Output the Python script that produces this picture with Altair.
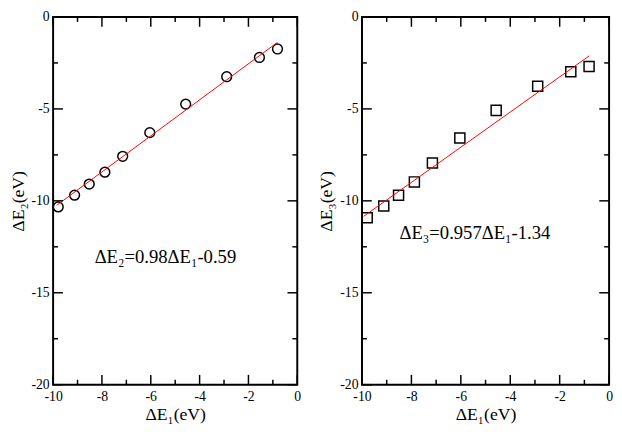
import altair as alt
import pandas as pd

# ---- data ----
de1 = [-9.79, -9.12, -8.52, -7.88, -7.15, -6.04, -4.57, -2.89, -1.55, -0.81]
de2 = [-10.33, -9.69, -9.09, -8.44, -7.58, -6.29, -4.74, -3.25, -2.20, -1.74]
de3 = [-10.92, -10.28, -9.70, -8.97, -7.94, -6.58, -5.08, -3.77, -2.98, -2.69]

fit2_x = [-9.85, -0.81]
fit2_y = [-10.24, -1.38]
fit3_x = [-9.93, -0.80]
fit3_y = [-10.84, -2.11]

x_major = [-10, -8, -6, -4, -2, 0]
x_minor = [-9, -7, -5, -3, -1]
y_major = [-20, -15, -10, -5, 0]
y_minor = [-17.5, -12.5, -7.5, -2.5]

eq2 = "ΔE₂=0.98ΔE₁-0.59"
eq3 = "ΔE₃=0.957ΔE₁-1.34"

FONT = "Liberation Serif"


def panel(W, H, ydata, fx, fy, shape, ytitle, eq, eqx, eqy):
    xs = alt.Scale(domain=[-10, 0], nice=False, zero=False)
    ys = alt.Scale(domain=[-20, 0], nice=False, zero=False)
    xax = alt.Axis(
        values=x_major, title="ΔE₁(eV)", ticks=False, domain=False, grid=False,
        labelExpr="toString(datum.value)", labelPadding=5, labelFontSize=14,
        labelFont=FONT, titleFont=FONT, labelColor="black", titleColor="black",
        titleFontWeight="normal",
        titleFontSize=18, titlePadding=2, labelFlush=False)
    yax = alt.Axis(
        values=y_major, title=ytitle, ticks=False, domain=False, grid=False,
        labelExpr="toString(datum.value)", labelPadding=4, labelFontSize=14,
        labelFont=FONT, titleFont=FONT, labelColor="black", titleColor="black",
        titleFontWeight="normal",
        titleFontSize=18, titlePadding=4, labelFlush=False)
    X = lambda f: alt.X(f, scale=xs, axis=xax)
    Y = lambda f: alt.Y(f, scale=ys, axis=yax)

    pts = pd.DataFrame({"x": de1, "y": ydata})
    fit = pd.DataFrame({"x": fx, "y": fy})

    points = alt.Chart(pts).mark_point(
        shape=shape, filled=False, stroke="black", strokeWidth=1.5,
        size=100 if shape == "circle" else 105, opacity=1
    ).encode(x=X("x:Q"), y=Y("y:Q"))
    line = alt.Chart(fit).mark_line(color="red", strokeWidth=1).encode(
        x=X("x:Q"), y=Y("y:Q"))
    txt = alt.Chart(pd.DataFrame({"t": [eq], "x": [eqx], "y": [eqy]})).mark_text(
        font=FONT, fontSize=19, baseline="alphabetic", align="center", color="black"
    ).encode(x=X("x:Q"), y=Y("y:Q"), text="t:N")

    xmaj = pd.DataFrame({"x": x_major})
    xmin = pd.DataFrame({"x": x_minor})
    ymaj = pd.DataFrame({"y": y_major})
    ymin = pd.DataFrame({"y": y_minor})
    tk = dict(color="black", strokeWidth=1.5)
    layers = []
    for df, L in ((xmaj, 10), (xmin, 5)):
        layers.append(alt.Chart(df).mark_rule(**tk).encode(
            x=X("x:Q"), y=alt.value(0), y2=alt.value(L)))
        layers.append(alt.Chart(df).mark_rule(**tk).encode(
            x=X("x:Q"), y=alt.value(H - L), y2=alt.value(H)))
    for df, L in ((ymaj, 10), (ymin, 5)):
        layers.append(alt.Chart(df).mark_rule(**tk).encode(
            y=Y("y:Q"), x=alt.value(0), x2=alt.value(L)))
        layers.append(alt.Chart(df).mark_rule(**tk).encode(
            y=Y("y:Q"), x=alt.value(W - L), x2=alt.value(W)))
    return alt.layer(points, line, txt, *layers).properties(width=W, height=H)


left = panel(249, 375, de2, fit2_x, fit2_y, "circle", "ΔE₂(eV)", eq2, -5.4, -13.4)
right = panel(252, 375, de3, fit3_x, fit3_y, "square", "ΔE₃(eV)", eq3, -5.43, -12.1)

chart = alt.hconcat(left, right, spacing=15).properties(
    padding={"left": 0, "top": -3, "right": 0, "bottom": 0}
).configure(font=FONT).configure_view(
    stroke="black", strokeWidth=2
)

chart.save("out.html", embed_options={"renderer": "svg", "actions": False})
